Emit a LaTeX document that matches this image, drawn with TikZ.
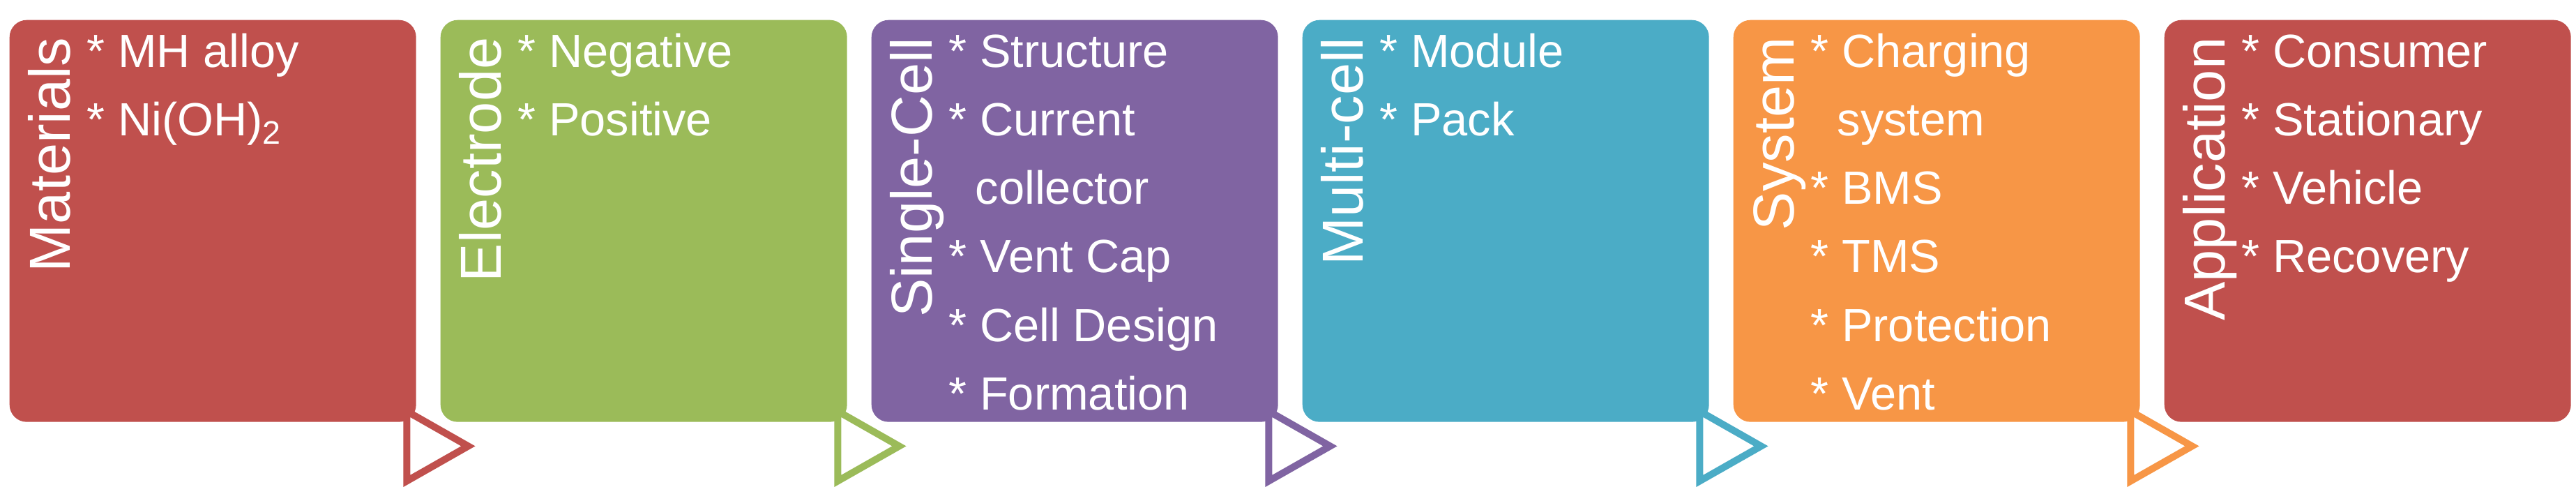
\documentclass[tikz,border=0pt]{standalone}
\usepackage{fontspec}
\setmainfont{Liberation Sans}
\usetikzlibrary{calc}
\definecolor{matred}{RGB}{192,80,77}
\definecolor{elgreen}{RGB}{155,187,89}
\definecolor{cellpurple}{RGB}{128,100,162}
\definecolor{multiblue}{RGB}{75,172,198}
\definecolor{sysorange}{RGB}{247,150,70}
\newcommand{\wrapin}{\hspace*{0.57em}}
\newcommand{\topline}{\rule{0pt}{0.75em}}
\tikzset{
  stage/.style={rectangle, rounded corners=7pt, minimum width=58.3mm, minimum height=57.6mm, inner sep=0pt, anchor=north west},
  head/.style={rotate=90, anchor=base east, inner sep=0pt, text=white, font=\fontsize{23.6}{28}\selectfont},
  items/.style={anchor=north west, inner sep=0pt, align=left, text=white, font=\fontsize{19}{27.9}\selectfont},
  flag/.style={line width=1mm, fill=white, line join=miter},
}

\begin{document}
\begin{tikzpicture}
  % six stages of the battery chain, left to right
  \useasboundingbox (0,0) rectangle (36.94,7.07);
  \foreach \i/\n/\c/\t/\b in {
    0/mat/matred/Materials/{* MH alloy\\* Ni(OH)\textsubscript{2}},
    1/elec/elgreen/Electrode/{* Negative\\* Positive},
    2/cell/cellpurple/Single-Cell/{* Structure\\* Current\\\wrapin collector\\* Vent Cap\\* Cell Design\\* Formation},
    3/multi/multiblue/Multi-cell/{* Module\\* Pack},
    4/sys/sysorange/System/{* Charging\\\wrapin system\\* BMS\\* TMS\\* Protection\\* Vent},
    5/app/matred/Application/{* Consumer\\* Stationary\\* Vehicle\\* Recovery}} {
    \node[stage, fill=\c] (\n) at (0.13+6.18*\i, 6.79) {};
    \node[head] (\n-title) at ($(\n.north west)+(0.87,-0.25)$) {\t};
    \node[items] (\n-list) at ($(\n.north west)+(1.11,-0.18)$) {\topline\b};
  }
  % open arrow heads between the stages
  \foreach \n/\c in {mat/matred, elec/elgreen, cell/cellpurple, multi/multiblue, sys/sysorange} {
    \draw[flag, draw=\c] ($(\n.south east)+(-0.14,0.16)$) -- ++(0.88,-0.5) -- ++(-0.88,-0.5) -- cycle;
  }
\end{tikzpicture}
\end{document}
